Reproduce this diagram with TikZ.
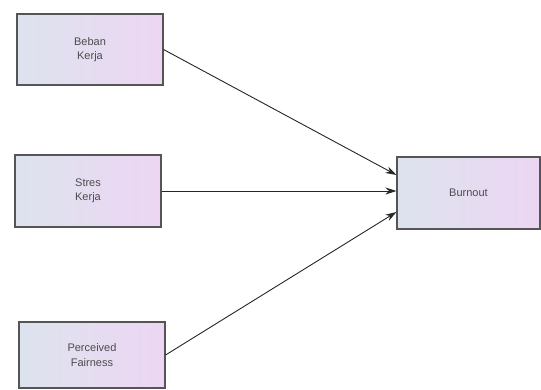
\documentclass[tikz,border=0pt]{standalone}
\usepackage{fontspec}
\setmainfont{Liberation Sans}
\usetikzlibrary{arrows.meta}
\definecolor{boxleft}{HTML}{DDE3EE}
\definecolor{boxright}{HTML}{EDD6F3}
\definecolor{boxline}{HTML}{555555}
\begin{document}
\begin{tikzpicture}[x=1pt,y=-1pt,
  varbox/.style={draw=boxline, line width=1.1pt, left color=boxleft, right color=boxright,
    minimum width=146pt, minimum height=71pt, align=center, font=\fontsize{11}{14.5}\selectfont, text=black!70, inner sep=0pt},
  link/.style={draw=black!85, line width=0.9pt, -{Stealth[length=11pt,width=7pt]}}]
\useasboundingbox (0,0) rectangle (541,390);
\node[varbox] (b1) at (90,49.5) {Beban\\Kerja};
\node[varbox, minimum height=72pt] (b2) at (88,191) {Stres\\Kerja};
\node[varbox, minimum height=66pt] (b3) at (92,355) {Perceived\\Fairness};
\node[varbox, minimum width=143pt, minimum height=72pt] (bo) at (468.5,193) {Burnout};
\coordinate (t1) at ([yshift=18pt]bo.west);
\coordinate (t3) at ([yshift=-19pt]bo.west);
\draw[link] (b1.east) -- (t1);
\draw[link] (b2.east) -- (b2.east -| bo.west);
\draw[link] (b3.east) -- (t3);
\end{tikzpicture}
\end{document}
